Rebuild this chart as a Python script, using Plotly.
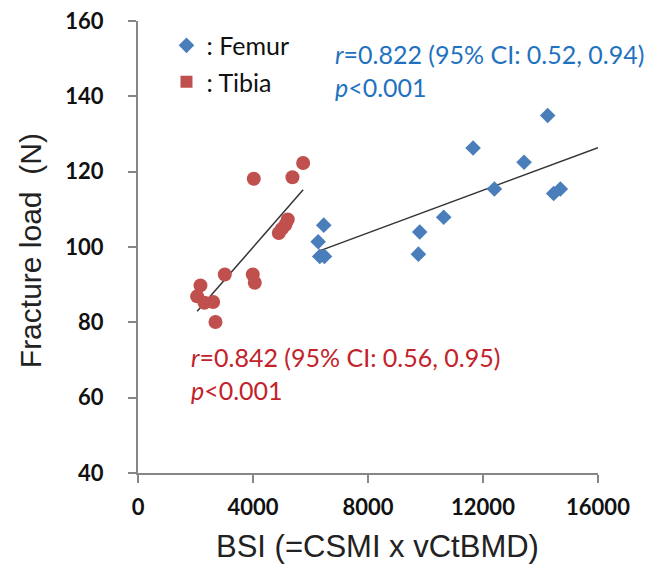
import numpy as np
import plotly.graph_objects as go

# Femur data (BSI, fracture load)
femur_bsi = [14249, 11655, 13428, 12396, 14458, 14690, 10633, 9799, 9753, 6461, 6266, 6322, 6485]
femur_load = [134.9, 126.3, 122.5, 115.4, 114.2, 115.4, 107.9, 104.0, 98.1, 105.8, 101.4, 97.5, 97.5]

# Tibia data
tibia_bsi = [5744, 5372, 4027, 5209, 5129, 5000, 4897, 3992, 4062, 3019, 2173, 2057, 2312, 2614, 2695]
tibia_load = [122.3, 118.5, 118.1, 107.3, 105.9, 104.8, 103.7, 92.7, 90.5, 92.7, 89.8, 86.9, 85.2, 85.4, 80.1]

x_ticks = [0, 4000, 8000, 12000, 16000]
y_ticks = [40, 60, 80, 100, 120, 140, 160]
x_range = [0, 16000]
y_range = [40, 160]

femur_text = "<i>r</i>=0.822 (95% CI: 0.52, 0.94)<br><i>p</i><0.001"
tibia_text = "<i>r</i>=0.842 (95% CI: 0.56, 0.95)<br><i>p</i><0.001"

BLUE = "#4a7ebb"
RED = "#c0504d"

# linear fits
fb, fa = np.polyfit(femur_bsi, femur_load, 1)
tb, ta = np.polyfit(tibia_bsi, tibia_load, 1)
fx = np.array([min(femur_bsi), x_range[1]])
tx = np.array([min(tibia_bsi), max(tibia_bsi)])

fig = go.Figure()
fig.add_trace(go.Scatter(x=fx, y=fb * fx + fa, mode="lines",
                         line=dict(color="#333333", width=1.5), showlegend=False, hoverinfo="skip"))
fig.add_trace(go.Scatter(x=tx, y=tb * tx + ta, mode="lines",
                         line=dict(color="#333333", width=1.5), showlegend=False, hoverinfo="skip"))
fig.add_trace(go.Scatter(x=femur_bsi, y=femur_load, mode="markers", name=": Femur",
                         legendgroup="f",
                         marker=dict(symbol="diamond", size=12, color=BLUE)))
fig.add_trace(go.Scatter(x=tibia_bsi, y=tibia_load, mode="markers", name=": Tibia",
                         legendgroup="t", showlegend=False,
                         marker=dict(symbol="circle", size=14, color=RED)))
fig.add_trace(go.Scatter(x=[None], y=[None], mode="markers", name=": Tibia",
                         legendgroup="t2",
                         marker=dict(symbol="square", size=12, color=RED)))

# page body has an 8px margin: figure drawn at (8, 8)
OX, OY = 8, 8
L, T = 137.5 - OX, 21.4 - OY
PW, PH = 460.2, 451.9


def px(x):
    return (x - OX - L) / PW


def py(y):
    return 1 - (y - OY - T) / PH


tickfont = dict(family="Lato", size=22, color="#111111", weight="bold")
fig.update_layout(
    width=649, height=559,
    margin=dict(l=L, r=649 - L - PW, t=T, b=559 - T - PH, autoexpand=False),
    paper_bgcolor="white", plot_bgcolor="white",
    showlegend=True,
    legend=dict(x=px(166), y=py(23), xanchor="left", yanchor="top",
                font=dict(family="Lato", size=25, color="#111111"),
                bgcolor="rgba(0,0,0,0)", traceorder="grouped", tracegroupgap=1),
    xaxis=dict(range=x_range, tickvals=x_ticks, ticktext=[str(v) for v in x_ticks],
               showgrid=False, zeroline=False, showline=True, linecolor="#868686", linewidth=2,
               ticks="outside", ticklen=8, tickwidth=2, tickcolor="#868686",
               tickfont=tickfont, ticklabelstandoff=6, ticklabeloverflow="allow"),
    yaxis=dict(range=y_range, tickvals=y_ticks, ticktext=[str(v) for v in y_ticks],
               showgrid=False, zeroline=False, showline=True, linecolor="#868686", linewidth=2,
               ticks="outside", ticklen=8, tickwidth=2, tickcolor="#868686",
               tickfont=tickfont, ticklabelstandoff=20, ticklabeloverflow="allow"),
    annotations=[
        dict(text=femur_text, xref="paper", yref="paper", x=px(333), y=py(37),
             xanchor="left", yanchor="top", align="left", showarrow=False,
             font=dict(family="Lato", size=25, color="#1f72c0")),
        dict(text=tibia_text, xref="paper", yref="paper", x=px(189), y=py(340),
             xanchor="left", yanchor="top", align="left", showarrow=False,
             font=dict(family="Lato", size=25, color="#c2222a")),
        dict(text="BSI (=CSMI x vCtBMD)", xref="paper", yref="paper", x=px(377),
             y=py(547), xanchor="center", yanchor="middle", showarrow=False,
             font=dict(family="Liberation Sans", size=31, color="#222222")),
        dict(text="Fracture load\u00a0\u00a0(N)", xref="paper", yref="paper", x=px(30),
             y=py(251), xanchor="center", yanchor="middle", showarrow=False,
             textangle=-90, font=dict(family="Liberation Sans", size=30, color="#222222")),
    ],
)

fig.write_html("out.html")
